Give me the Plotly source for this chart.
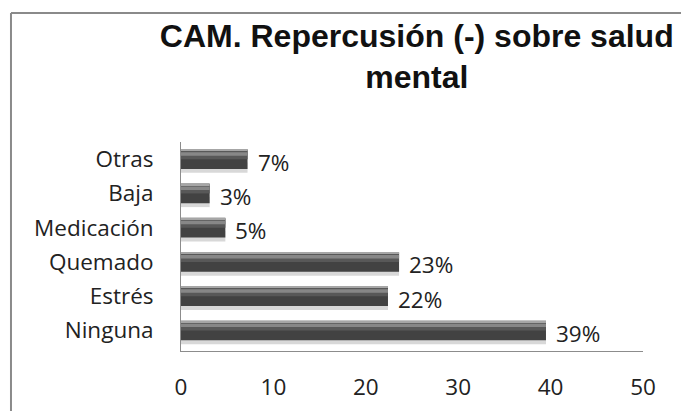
import plotly.graph_objects as go

# datos (de abajo hacia arriba)
categorias = ['Ninguna', 'Estrés', 'Quemado', 'Medicación', 'Baja', 'Otras']
valores = [39.5, 22.4, 23.6, 4.8, 3.1, 7.2]
etiquetas = ['39%', '22%', '23%', '5%', '3%', '7%']
ticks_x = [0, 10, 20, 30, 40, 50]

FUENTE = 'Open Sans'
TAM = 22.5

fig = go.Figure()

# capas para imitar el relieve de las barras
capas = [
    # (offset, ancho, color)
    (-0.40, 0.30, '#d8d8d8'),   # sombra
    (-0.2875, 0.575, '#424242'),  # cuerpo
    (0.0, 0.26, '#585858'),
    (0.10, 0.10, '#878787'),    # brillo
    (0.245, 0.04, '#a6a6a6'),   # borde superior
]
for off, ancho, color in capas:
    fig.add_trace(go.Bar(
        x=valores,
        y=categorias,
        orientation='h',
        offset=off,
        width=ancho,
        marker=dict(color=color, line=dict(width=0)),
        hoverinfo='skip',
        showlegend=False,
    ))

# etiquetas de datos
for v, c, t in zip(valores, categorias, etiquetas):
    fig.add_annotation(
        x=v, y=c, text=t, showarrow=False,
        xanchor='left', xshift=8, yshift=-3,
        font=dict(family=FUENTE, size=TAM, color='#222222'),
    )

# marco del gráfico
fig.add_shape(type='line', xref='paper', yref='paper',
              x0=-0.368, x1=-0.368, y0=1.617, y1=-0.29,
              line=dict(color='#8a8a8a', width=2))
fig.add_shape(type='line', xref='paper', yref='paper',
              x0=-0.368, x1=1.09, y0=1.617, y1=1.617,
              line=dict(color='#8a8a8a', width=2))

fig.update_layout(
    width=681,
    height=411,
    barmode='overlay',
    template='plotly_white',
    paper_bgcolor='white',
    plot_bgcolor='white',
    margin=dict(l=181, r=38, t=142, b=60, autoexpand=False),
    title=dict(
        text='CAM. Repercusión (-) sobre salud<br>mental',
        x=0.612, xanchor='center',
        y=0.886, yanchor='top',
        font=dict(family='Liberation Sans', size=32, color='#111111', weight='bold'),
    ),
    showlegend=False,
)

fig.update_xaxes(
    range=[0, 50],
    tickvals=ticks_x,
    showgrid=False,
    zeroline=False,
    showline=True,
    linecolor='#8c8c8c',
    linewidth=1,
    ticks='',
    automargin=False,
    ticklabelstandoff=16,
    tickfont=dict(family=FUENTE, size=TAM, color='#222222'),
)
fig.update_yaxes(
    showgrid=False,
    zeroline=False,
    showline=True,
    linecolor='#8c8c8c',
    linewidth=1,
    ticks='',
    automargin=False,
    ticklabelstandoff=22,
    tickfont=dict(family=FUENTE, size=TAM, color='#222222'),
)

# quitar el margen del body para que la figura empiece en (0, 0)
fig.write_html('out.html', config={'displayModeBar': False},
               post_script="document.body.style.margin='0px';")
